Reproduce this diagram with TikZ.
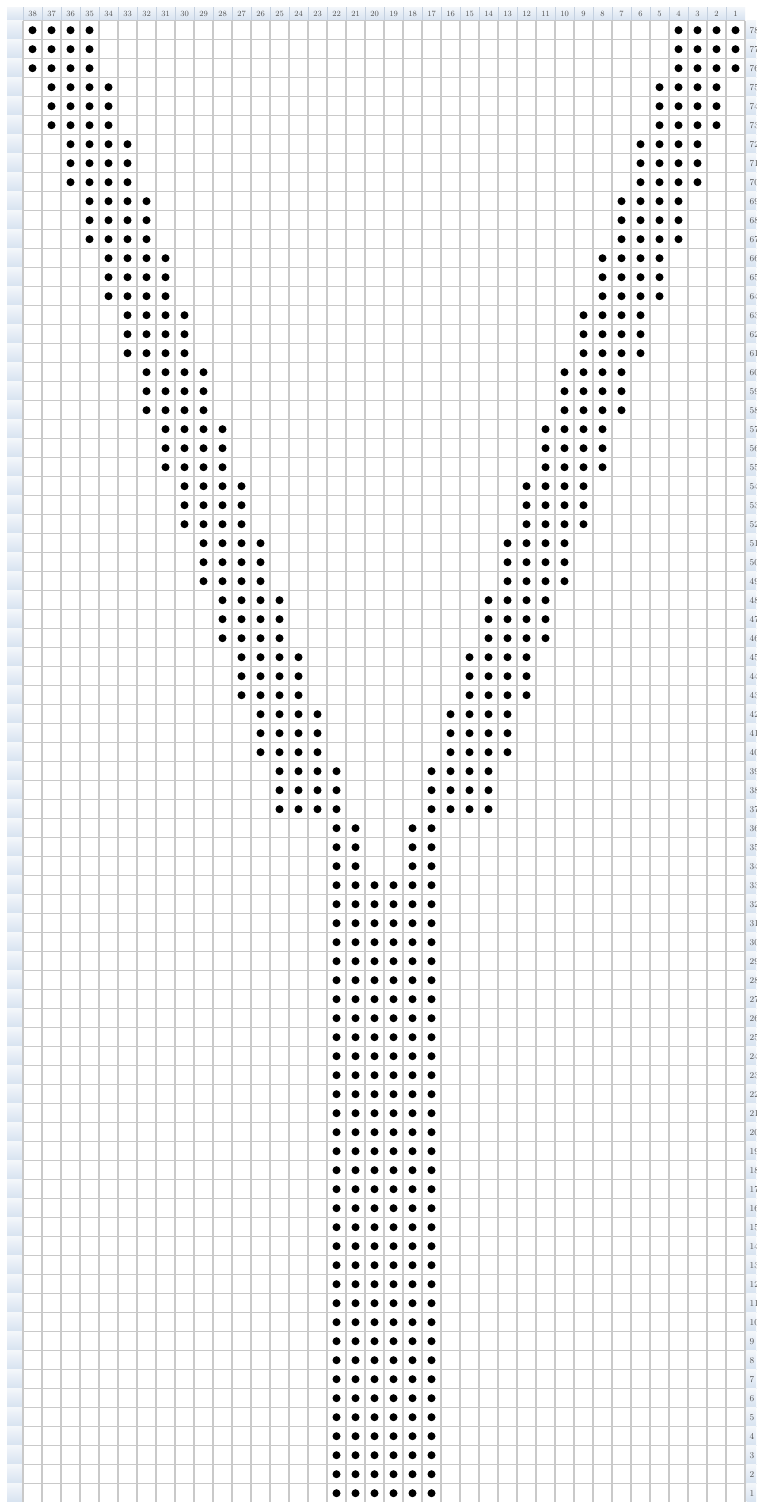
\documentclass[tikz,border=0pt]{standalone}
\definecolor{gridgray}{HTML}{C9C9C9}
\definecolor{hdrtop}{HTML}{F3F6FA}
\definecolor{hdrbot}{HTML}{D6E2F0}
\definecolor{hdrline}{HTML}{9DB1C9}
\definecolor{hdrtext}{HTML}{505050}
\tikzset{
  hdrcell/.style={top color=hdrtop,bottom color=hdrbot},
  gridline/.style={draw=gridgray,line width=1.1pt},
  stitch/.style={fill=black},
  hdrlabel/.style={font=\fontsize{8}{9}\selectfont,text=hdrtext,inner sep=0pt}
}
\begin{document}
\begin{tikzpicture}[x=1pt,y=-1pt]
\useasboundingbox (0,0) rectangle (756,1502);
\clip (0,0) rectangle (756,1502);
\fill[white] (0,0) rectangle (756,1502);
\shade[hdrcell] (7,7) rectangle (23,20.7);
\foreach \k in {0,...,37}{
  \pgfmathtruncatemacro{\c}{38-\k}
  \shade[hdrcell] ({23+19*\k},7) rectangle ({42+19*\k},20.7);
  \draw[draw=hdrline!60,line width=0.6pt] ({23+19*\k},7) -- ({23+19*\k},20.7);
  \node[hdrlabel] (col\c) at ({32.5+19*\k},14) {\c};
}
\foreach \j in {0,...,77}{
  \pgfmathtruncatemacro{\r}{78-\j}
  \shade[hdrcell] (7,{20.7+19*\j}) rectangle (23,{39.7+19*\j});
  \draw[draw=hdrline,line width=0.8pt] (7,{39.2+19*\j}) -- (23,{39.2+19*\j});
  \shade[hdrcell] (746.5,{20.7+19*\j}) rectangle (760,{39.7+19*\j});
  \draw[draw=hdrline,line width=0.8pt] (746.5,{39.2+19*\j}) -- (760,{39.2+19*\j});
  \node[hdrlabel,anchor=west,font=\fontsize{9}{10}\selectfont] (row\r) at (749.5,{30.2+19*\j}) {\r};
}
\foreach \k in {0,...,38}
  \draw[gridline] ({23+19*\k},20.7) -- ({23+19*\k},1502);
\foreach \j in {0,...,78}
  \draw[gridline] (23,{20.7+19*\j}) -- (745,{20.7+19*\j});
\foreach \j in {0,...,41}{
  \pgfmathtruncatemacro{\g}{floor(\j/3)}
  \foreach \d in {0,...,3}{
    \fill[stitch] ({32.5+19*(\g+\d)},{30.2+19*\j}) circle[radius=4pt];
    \fill[stitch] ({32.5+19*(34-\g+\d)},{30.2+19*\j}) circle[radius=4pt];
  }
}
\foreach \j in {42,43,44}
  \foreach \k in {16,17,20,21}
    \fill[stitch] ({32.5+19*\k},{30.2+19*\j}) circle[radius=4pt];
\foreach \j in {45,...,77}
  \foreach \k in {16,...,21}
    \fill[stitch] ({32.5+19*\k},{30.2+19*\j}) circle[radius=4pt];
\end{tikzpicture}
\end{document}
